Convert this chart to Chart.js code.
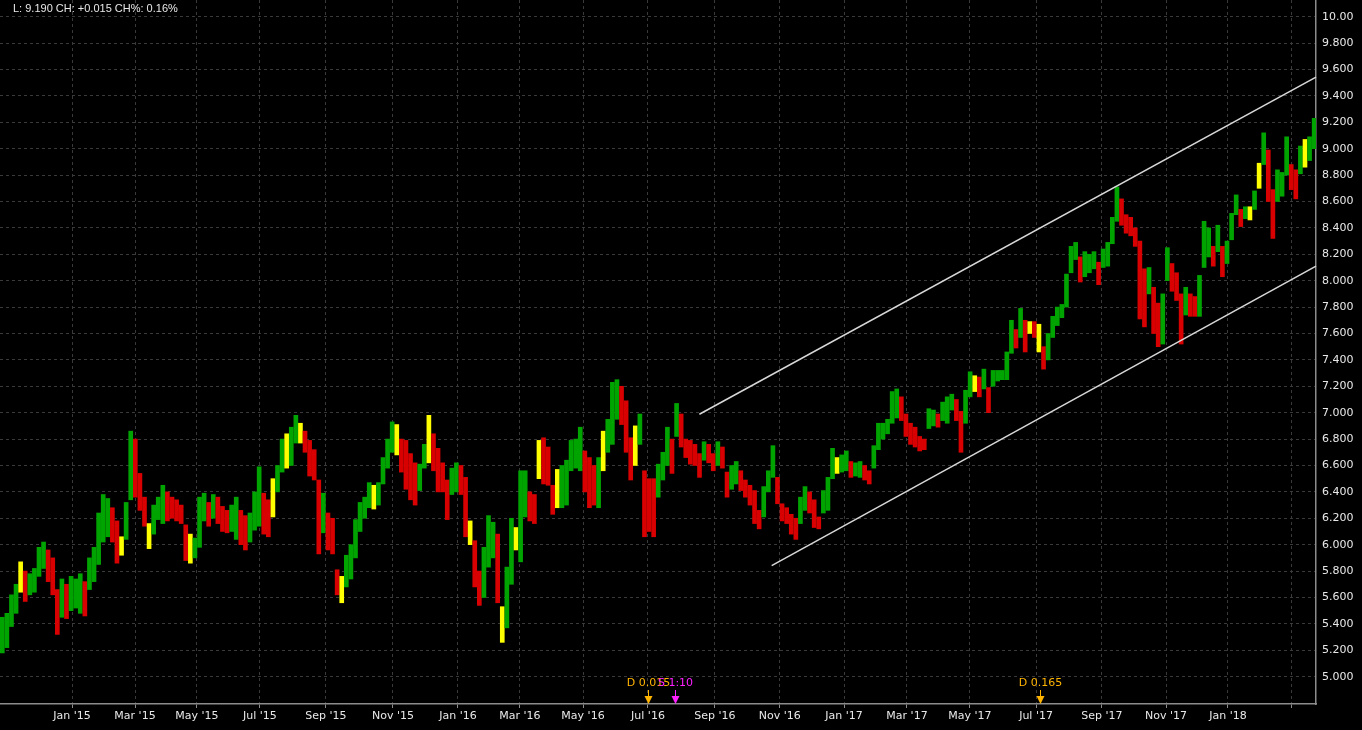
<!DOCTYPE html>
<html>
<head>
<meta charset="utf-8">
<script src="https://cdn.jsdelivr.net/npm/chart.js@4.4.1/dist/chart.umd.min.js"></script>
<style>
    html, body { margin: 0; padding: 0; background: #000; }
</style>
</head>
<body>
<canvas id="priceChart" width="1362" height="730"></canvas>
<script>
// x values are trading days from the first bar; each bar covers 3 days
const BAR_DAYS = 3;

const barHighs = [
    5.45, 5.48, 5.62, 5.70, 5.87, 5.80, 5.78, 5.82, 5.98, 6.02,
    5.96, 5.90, 5.66, 5.74, 5.70, 5.76, 5.74, 5.78, 5.72, 5.90,
    5.98, 6.24, 6.38, 6.35, 6.28, 6.18, 6.06, 6.32, 6.86, 6.80,
    6.54, 6.36, 6.16, 6.30, 6.36, 6.45, 6.40, 6.36, 6.34, 6.30,
    6.15, 6.08, 6.05, 6.36, 6.39, 6.32, 6.38, 6.36, 6.29, 6.26,
    6.30, 6.36, 6.26, 6.22, 6.24, 6.40, 6.59, 6.39, 6.34, 6.50,
    6.60, 6.80, 6.84, 6.89, 6.98, 6.92, 6.86, 6.79, 6.72, 6.49,
    6.39, 6.24, 6.20, 5.81, 5.76, 5.92, 6.00, 6.19, 6.32, 6.36,
    6.47, 6.45, 6.47, 6.66, 6.80, 6.93, 6.91, 6.80, 6.79, 6.69,
    6.62, 6.61, 6.76, 6.98, 6.84, 6.73, 6.62, 6.49, 6.58, 6.62,
    6.60, 6.51, 6.18, 6.03, 5.80, 5.98, 6.22, 6.17, 6.08, 5.53,
    5.83, 6.20, 6.13, 6.56, 6.56, 6.40, 6.38, 6.79, 6.81, 6.74,
    6.45, 6.57, 6.60, 6.64, 6.79, 6.80, 6.89, 6.71, 6.66, 6.60,
    6.66, 6.86, 6.95, 7.23, 7.25, 7.20, 7.09, 6.81, 6.90, 6.99,
    6.56, 6.50, 6.50, 6.61, 6.70, 6.89, 6.80, 7.07, 6.99, 6.80,
    6.79, 6.76, 6.69, 6.78, 6.76, 6.69, 6.78, 6.74, 6.55, 6.60,
    6.63, 6.56, 6.49, 6.45, 6.41, 6.26, 6.44, 6.56, 6.75, 6.51,
    6.31, 6.28, 6.23, 6.20, 6.36, 6.44, 6.40, 6.34, 6.21, 6.41,
    6.51, 6.73, 6.66, 6.68, 6.71, 6.63, 6.62, 6.63, 6.60, 6.56,
    6.75, 6.92, 6.92, 6.95, 7.16, 7.18, 7.12, 6.99, 6.92, 6.89,
    6.82, 6.80, 7.03, 7.02, 6.99, 7.08, 7.12, 7.14, 7.10, 7.01,
    7.17, 7.31, 7.28, 7.27, 7.33, 7.19, 7.32, 7.32, 7.32, 7.46,
    7.70, 7.63, 7.79, 7.70, 7.69, 7.69, 7.67, 7.50, 7.60, 7.73,
    7.80, 7.82, 8.05, 8.26, 8.29, 8.18, 8.22, 8.20, 8.22, 8.14,
    8.24, 8.29, 8.48, 8.71, 8.62, 8.50, 8.48, 8.40, 8.30, 8.09,
    8.10, 7.95, 7.83, 7.90, 8.25, 8.13, 8.06, 7.90, 7.95, 7.90,
    7.88, 8.04, 8.45, 8.40, 8.26, 8.42, 8.26, 8.30, 8.51, 8.65,
    8.54, 8.56, 8.56, 8.68, 8.89, 9.12, 8.99, 8.69, 8.84, 8.82,
    9.09, 8.88, 8.84, 9.02, 9.07, 9.09, 9.23,
];

const barLows = [
    5.18, 5.22, 5.38, 5.48, 5.64, 5.57, 5.62, 5.64, 5.76, 5.82,
    5.72, 5.62, 5.32, 5.45, 5.44, 5.50, 5.52, 5.48, 5.46, 5.66,
    5.72, 5.85, 6.02, 6.06, 6.02, 5.86, 5.92, 6.04, 6.34, 6.36,
    6.26, 6.14, 5.97, 6.08, 6.19, 6.16, 6.18, 6.20, 6.18, 6.16,
    5.88, 5.86, 5.90, 5.98, 6.18, 6.14, 6.20, 6.16, 6.10, 6.09,
    6.10, 6.04, 6.00, 5.96, 6.02, 6.11, 6.14, 6.08, 6.06, 6.21,
    6.40, 6.55, 6.58, 6.60, 6.77, 6.77, 6.70, 6.52, 6.49, 5.93,
    6.09, 5.96, 5.93, 5.62, 5.56, 5.68, 5.74, 5.90, 6.10, 6.20,
    6.28, 6.27, 6.30, 6.46, 6.58, 6.70, 6.68, 6.55, 6.42, 6.34,
    6.30, 6.41, 6.58, 6.62, 6.56, 6.40, 6.40, 6.19, 6.38, 6.40,
    6.38, 6.06, 6.00, 5.68, 5.54, 5.60, 5.83, 5.90, 5.56, 5.26,
    5.37, 5.70, 5.96, 5.87, 6.21, 6.18, 6.16, 6.50, 6.46, 6.45,
    6.23, 6.28, 6.28, 6.30, 6.56, 6.58, 6.56, 6.40, 6.28, 6.30,
    6.28, 6.56, 6.70, 6.76, 6.95, 6.91, 6.70, 6.49, 6.60, 6.76,
    6.06, 6.10, 6.06, 6.36, 6.49, 6.60, 6.54, 6.82, 6.74, 6.66,
    6.61, 6.60, 6.51, 6.64, 6.62, 6.56, 6.60, 6.58, 6.36, 6.42,
    6.46, 6.41, 6.36, 6.30, 6.16, 6.12, 6.21, 6.40, 6.51, 6.31,
    6.18, 6.16, 6.08, 6.04, 6.16, 6.26, 6.24, 6.13, 6.12, 6.24,
    6.26, 6.50, 6.54, 6.55, 6.56, 6.51, 6.52, 6.51, 6.49, 6.46,
    6.58, 6.72, 6.80, 6.84, 6.92, 6.96, 6.94, 6.82, 6.76, 6.74,
    6.71, 6.72, 6.88, 6.90, 6.89, 6.94, 6.92, 7.02, 6.94, 6.70,
    6.92, 7.12, 7.16, 7.12, 7.18, 7.00, 7.20, 7.24, 7.25, 7.25,
    7.45, 7.49, 7.57, 7.46, 7.60, 7.57, 7.46, 7.33, 7.40, 7.57,
    7.66, 7.72, 7.80, 8.06, 8.16, 7.99, 8.03, 8.06, 8.09, 7.97,
    8.10, 8.11, 8.28, 8.45, 8.42, 8.36, 8.34, 8.26, 7.71, 7.65,
    7.90, 7.60, 7.50, 7.52, 8.00, 7.92, 7.85, 7.52, 7.74, 7.73,
    7.73, 7.73, 8.10, 8.18, 8.11, 8.22, 8.03, 8.13, 8.31, 8.50,
    8.41, 8.47, 8.46, 8.54, 8.70, 8.88, 8.60, 8.32, 8.60, 8.64,
    8.80, 8.69, 8.62, 8.81, 8.86, 8.91, 9.00,
];

// bars drawn in yellow
const highlightBars = [
    4, 26, 32, 41, 59, 62, 65, 74, 81, 86, 93, 102, 109, 112, 117,
    121, 131, 138, 182, 212, 224, 226, 272, 274, 284,
];

const monthTickDays = [
    47.1, 88.3, 128.8, 170.0, 213.2, 257.0, 299.5, 340.0, 381.3, 423.8,
    467.6, 510.0, 552.0, 593.2, 634.4, 677.6, 720.7, 762.6, 803.1, 845.0,
];
const monthTickLabels = [
    "Jan '15", "Mar '15", "May '15", "Jul '15", "Sep '15", "Nov '15",
    "Jan '16", "Mar '16", "May '16", "Jul '16", "Sep '16", "Nov '16",
    "Jan '17", "Mar '17", "May '17", "Jul '17", "Sep '17", "Nov '17",
    "Jan '18", "",
];

// trend channel, [day, price] end points
const channelUpper = [[457.4, 6.988], [860.7, 9.542]];
const channelLower = [[504.7, 5.841], [860.7, 8.111]];

// corporate actions shown at the bottom
const eventDays = [423.8, 441.5, 680.2];
const eventLabels = ["D 0.015", "S 1:10", "D 0.165"];

const lastPrice = 9.19;
const lastChange = 0.015;
const lastChangePct = 0.16;

const COLORS = {
    up: "#00a400",
    down: "#d80000",
    mark: "#ffff00",
    grid: "#3a3a3a",
    axis: "#8c8c8c",
    text: "#e8e8e8",
    channel: "#d8d8d8",
    dividend: "#ffb400",
    split: "#ff20ff",
};
const FONT = "DejaVu Sans";

const bars = barHighs.map((h, i) => ({
    x: i * BAR_DAYS + BAR_DAYS / 2,
    y: [barLows[i], h],
}));

const barColors = barHighs.map((h, i) => {
    if (highlightBars.includes(i)) return COLORS.mark;
    if (i === 0) return COLORS.up;
    const mid = (h + barLows[i]) / 2;
    const prevMid = (barHighs[i - 1] + barLows[i - 1]) / 2;
    return mid >= prevMid ? COLORS.up : COLORS.down;
});

const overlayPlugin = {
    id: "overlay",
    beforeDraw(chart) {
        const { ctx, width, height } = chart;
        ctx.save();
        ctx.fillStyle = "#000";
        ctx.fillRect(0, 0, width, height);
        ctx.restore();
    },
    afterDatasetsDraw(chart) {
        const { ctx, scales } = chart;
        const xs = scales.x;
        const ys = scales.y;

        ctx.save();

        // channel
        ctx.strokeStyle = COLORS.channel;
        ctx.lineWidth = 1.5;
        [channelUpper, channelLower].forEach((line) => {
            ctx.beginPath();
            ctx.moveTo(xs.getPixelForValue(line[0][0]), ys.getPixelForValue(line[0][1]));
            ctx.lineTo(xs.getPixelForValue(line[1][0]), ys.getPixelForValue(line[1][1]));
            ctx.stroke();
        });

        // event arrows
        const bottom = chart.chartArea.bottom;
        ctx.font = "11px '" + FONT + "'";
        ctx.textAlign = "center";
        ctx.textBaseline = "middle";
        eventDays.forEach((day, i) => {
            const x = Math.round(xs.getPixelForValue(day)) + 0.5;
            const color = eventLabels[i].startsWith("S") ? COLORS.split : COLORS.dividend;
            ctx.fillStyle = color;
            ctx.strokeStyle = color;
            ctx.fillText(eventLabels[i], x, bottom - 21);
            ctx.lineWidth = 1;
            ctx.beginPath();
            ctx.moveTo(x, bottom - 14);
            ctx.lineTo(x, bottom - 7);
            ctx.stroke();
            ctx.beginPath();
            ctx.moveTo(x - 4, bottom - 8);
            ctx.lineTo(x + 4, bottom - 8);
            ctx.lineTo(x, bottom);
            ctx.closePath();
            ctx.fill();
        });

        // last value line
        ctx.fillStyle = COLORS.text;
        ctx.textAlign = "left";
        ctx.font = "11px 'Liberation Sans'";
        const sign = lastChange >= 0 ? "+" : "";
        ctx.fillText(
            "L: " + lastPrice.toFixed(3) +
            " CH: " + sign + lastChange.toFixed(3) +
            " CH%: " + lastChangePct.toFixed(2) + "%",
            13, 9
        );

        ctx.restore();
    },
};

new Chart(document.getElementById("priceChart"), {
    type: "bar",

    data: {
        datasets: [
            {
                data: bars,
                backgroundColor: barColors,
                borderWidth: 0,
                barThickness: 4,
                grouped: false,
            },
        ],
    },

    plugins: [overlayPlugin],

    options: {
        responsive: false,
        animation: false,
        devicePixelRatio: 1,
        layout: { padding: 0 },

        plugins: {
            legend: { display: false },
            tooltip: { enabled: false },
        },

        scales: {
            x: {
                type: "linear",
                min: 0,
                max: 860.7,
                offset: false,

                afterBuildTicks: (scale) => {
                    scale.ticks = monthTickDays.map((v) => ({ value: v }));
                },

                afterFit: (scale) => {
                    scale.height = 26;
                    scale.paddingLeft = 0;
                    scale.paddingRight = 0;
                },

                ticks: {
                    autoSkip: false,
                    maxRotation: 0,
                    padding: 2,
                    color: COLORS.text,
                    font: { family: FONT, size: 11 },
                    callback: (v, i) => monthTickLabels[i],
                },

                grid: {
                    offset: false,
                    color: COLORS.grid,
                    tickColor: COLORS.axis,
                    tickLength: 4,
                },

                border: {
                    color: COLORS.axis,
                    width: 1.5,
                    dash: [3, 3],
                },
            },

            y: {
                position: "right",
                min: 4.793,
                max: 10.1265,

                afterBuildTicks: (scale) => {
                    scale.ticks = scale.ticks.filter((t) => t.value > 4.9);
                },

                afterFit: (scale) => {
                    scale.width = 46;
                    scale.paddingTop = 0;
                    scale.paddingBottom = 0;
                },

                ticks: {
                    stepSize: 0.2,
                    includeBounds: false,
                    padding: 6,
                    color: COLORS.text,
                    font: { family: FONT, size: 11 },
                    callback: (v) => (v >= 9.999 ? v.toFixed(2) : v.toFixed(3)),
                },

                grid: {
                    color: COLORS.grid,
                    drawTicks: false,
                },

                border: {
                    color: COLORS.axis,
                    width: 1.5,
                    dash: [3, 3],
                },
            },
        },
    },
});
</script>
</body>
</html>
